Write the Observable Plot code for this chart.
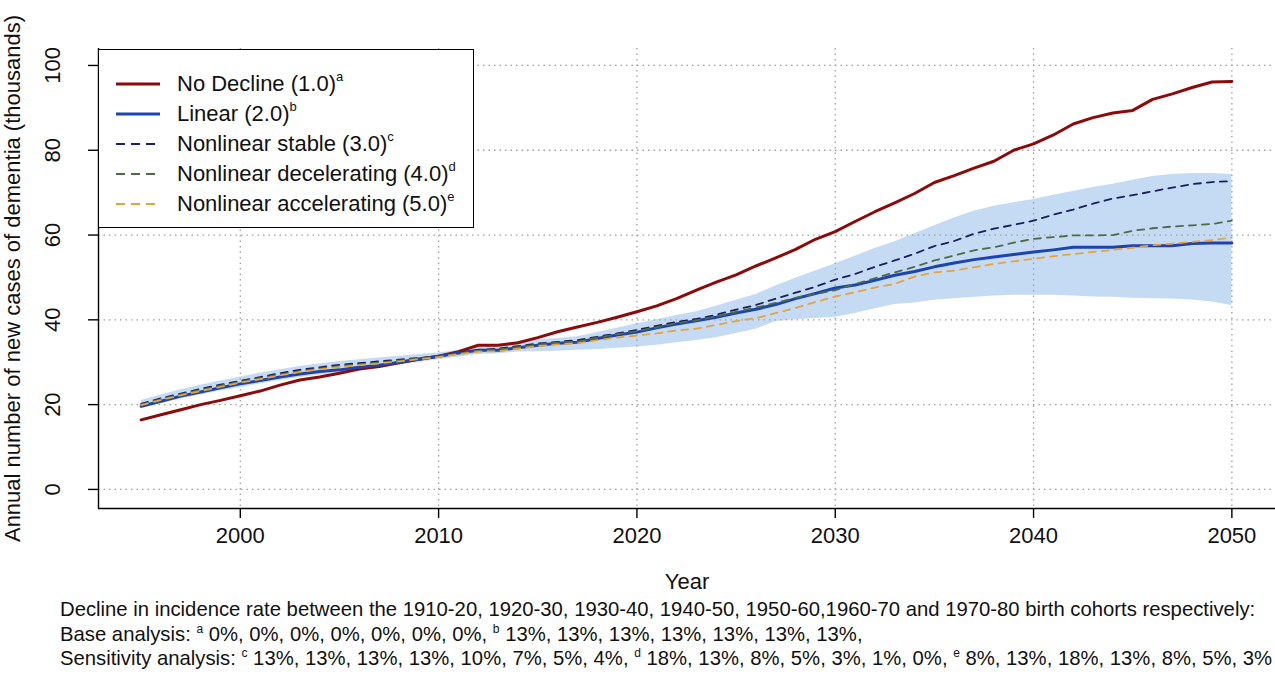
<!DOCTYPE html>
<html><head><meta charset="utf-8">
<script src="https://cdn.jsdelivr.net/npm/d3@7"></script>
<script src="https://cdn.jsdelivr.net/npm/@observablehq/plot@0.6"></script>
<style>
body{margin:0;background:#fff;font-family:"Liberation Sans",Arial,sans-serif;}
#wrap{position:relative;width:1275px;}
#legend{position:absolute;left:98px;top:49px;width:374px;height:177px;border:1px solid #000;background:#fff;}
.row{position:absolute;left:0;height:30px;width:100%;font-size:22px;line-height:30px;color:#111;}
.row svg{position:absolute;left:17px;top:10px;}
.row .t{position:absolute;left:78px;top:0;white-space:nowrap;}
.row sup{font-size:13px;vertical-align:top;position:relative;top:-7px;}
#caption{font-size:20.3px;line-height:24.5px;padding-left:60px;padding-top:2px;color:#111;white-space:nowrap;}
#caption sup{font-size:12px;vertical-align:top;position:relative;top:-5px;}
</style></head>
<body>
<div id="wrap"><div id="chart"></div><div id="legend"></div></div>
<div id="caption">
<div>Decline in incidence rate between the 1910-20, 1920-30, 1930-40, 1940-50, 1950-60,1960-70 and 1970-80 birth cohorts respectively:</div>
<div>Base analysis: <sup>a</sup> 0%, 0%, 0%, 0%, 0%, 0%, 0%, <sup>b</sup> 13%, 13%, 13%, 13%, 13%, 13%, 13%,</div>
<div>Sensitivity analysis: <sup>c</sup> 13%, 13%, 13%, 13%, 10%, 7%, 5%, 4%, <sup>d</sup> 18%, 13%, 8%, 5%, 3%, 1%, 0%, <sup>e</sup> 8%, 13%, 18%, 13%, 8%, 5%, 3%</div>
</div>
<script>
const years = d3.range(1995, 2051);
const xTicks = [2000, 2010, 2020, 2030, 2040, 2050];
const yTicks = [0, 20, 40, 60, 80, 100];

const noDecline = [16.4,17.6,18.8,20.0,21.0,22.1,23.2,24.6,25.8,26.5,27.4,28.4,29.0,29.9,30.7,31.4,32.5,34.0,34.0,34.6,35.8,37.2,38.3,39.4,40.6,41.9,43.3,45.0,47.0,48.9,50.6,52.7,54.6,56.6,59.0,60.8,63.2,65.5,67.6,69.8,72.4,74.0,75.8,77.4,80.0,81.5,83.6,86.2,87.7,88.8,89.4,92.0,93.3,94.8,96.1,96.2];
const linear = [19.6,20.8,22.0,23.0,24.0,24.9,25.7,26.5,27.2,27.8,28.2,28.8,29.3,30.0,30.7,31.4,32.2,32.8,32.8,33.4,34.0,34.5,34.7,35.6,36.4,37.1,38.1,39.0,39.8,40.6,41.6,42.5,43.6,45.0,46.2,47.5,48.2,49.3,50.5,51.4,52.5,53.4,54.2,54.8,55.4,56.0,56.5,57.1,57.1,57.1,57.5,57.5,57.5,58.0,58.1,58.1];
const nlStable = [20.2,21.5,22.6,23.7,24.7,25.6,26.5,27.4,28.2,28.8,29.4,29.8,30.2,30.6,31.0,31.4,32.2,32.9,33.2,33.8,34.4,34.8,35.2,36.0,36.8,37.6,38.6,39.5,40.2,41.2,42.4,43.5,45.0,46.4,47.8,49.5,50.8,52.5,54.0,55.6,57.4,58.6,60.3,61.5,62.4,63.4,64.8,66.0,67.4,68.6,69.4,70.3,71.2,72.0,72.5,72.7];
const nlDecel = [20.0,21.3,22.4,23.5,24.5,25.4,26.3,27.1,27.9,28.5,29.1,29.5,29.9,30.4,30.9,31.4,32.1,32.8,33.0,33.6,34.2,34.6,34.9,35.8,36.6,37.3,38.3,39.2,39.9,40.8,41.9,42.9,44.0,45.2,46.1,47.0,48.4,49.8,51.2,52.5,54.0,55.2,56.4,57.1,58.2,59.1,59.5,59.9,59.9,60.0,61.0,61.6,62.0,62.3,62.6,63.4];
const nlAccel = [19.9,21.1,22.2,23.2,24.2,25.2,26.0,26.9,27.7,28.3,28.9,29.3,29.7,30.2,30.7,31.2,31.9,32.5,32.6,33.2,33.8,34.2,34.5,35.2,35.8,36.3,36.8,37.5,37.9,38.8,39.7,40.4,41.6,42.8,44.2,45.5,46.5,47.6,48.5,50.2,51.2,51.6,52.4,53.2,53.8,54.4,55.0,55.5,56.0,56.5,57.0,57.6,58.0,58.4,58.8,59.4];
const bandLow = [19.0,20.2,21.3,22.3,23.2,24.0,24.9,25.7,26.4,27.0,27.5,28.1,28.6,29.3,30.0,30.6,31.2,31.8,32.0,32.4,32.5,32.6,32.8,33.0,33.3,33.6,34.0,34.6,35.1,35.8,36.8,37.8,39.6,40.0,40.3,40.6,41.5,42.6,43.6,44.0,44.6,45.0,45.3,45.6,45.8,45.8,45.8,45.6,45.4,45.3,45.1,45.0,44.9,44.7,44.2,43.4];
const bandHigh = [21.0,22.3,23.5,24.6,25.6,26.5,27.4,28.2,29.0,29.6,30.2,30.6,31.0,31.4,31.8,32.2,32.8,33.5,34.0,34.8,35.3,35.6,36.0,37.0,38.0,39.1,40.0,41.0,41.9,43.2,44.6,46.0,48.0,49.8,51.5,53.2,55.0,56.8,58.4,60.3,62.2,64.0,65.6,66.8,67.6,68.4,69.4,70.3,71.2,72.0,72.9,73.8,74.3,74.5,74.5,74.3];

const seriesNames = ["No Decline (1.0)", "Linear (2.0)", "Nonlinear stable (3.0)", "Nonlinear decelerating (4.0)", "Nonlinear accelerating (5.0)"];
const seriesNotes = ["a", "b", "c", "d", "e"];
const seriesColors = ["#8c0a0a", "#1d43b0", "#1b1f5e", "#4d6b45", "#e8a33a"];

const rows = years.map((year, i) => ({year, noDecline: noDecline[i], linear: linear[i], nlStable: nlStable[i], nlDecel: nlDecel[i], nlAccel: nlAccel[i], lo: bandLow[i], hi: bandHigh[i]}));

const xDomain = [1992.85, 2052.2];
const yDomain = [-4.5, 104];

const chart = Plot.plot({
  width: 1275, height: 595,
  marginLeft: 98, marginRight: 0, marginTop: 48, marginBottom: 87,
  style: {fontFamily: '"Liberation Sans", Arial, sans-serif', color: "#111", background: "#fff"},
  x: {domain: xDomain},
  y: {domain: yDomain},
  marks: [
    Plot.areaY(rows, {x: "year", y1: "lo", y2: "hi", fill: "#c5daf3", fillOpacity: 1}),
    Plot.gridX(xTicks, {stroke: "#a0a0a0", strokeOpacity: 1, strokeDasharray: "1.5,4", strokeWidth: 1.3}),
    Plot.gridY(yTicks, {stroke: "#a0a0a0", strokeOpacity: 1, strokeDasharray: "1.5,4", strokeWidth: 1.3}),
    Plot.lineY(rows, {x: "year", y: "noDecline", stroke: seriesColors[0], strokeWidth: 3}),
    Plot.lineY(rows, {x: "year", y: "linear", stroke: seriesColors[1], strokeWidth: 3}),
    Plot.lineY(rows, {x: "year", y: "nlStable", stroke: seriesColors[2], strokeWidth: 1.8, strokeDasharray: "7,6"}),
    Plot.lineY(rows, {x: "year", y: "nlDecel", stroke: seriesColors[3], strokeWidth: 1.8, strokeDasharray: "7,6"}),
    Plot.lineY(rows, {x: "year", y: "nlAccel", stroke: seriesColors[4], strokeWidth: 1.8, strokeDasharray: "7,6"}),
    Plot.ruleX([xDomain[0]], {y1: () => yDomain[0], y2: () => yDomain[1], stroke: "#000", strokeWidth: 1.4}),
    Plot.ruleY([yDomain[0]], {x1: () => xDomain[0], x2: () => xDomain[1], stroke: "#000", strokeWidth: 1.4}),
    Plot.axisX({ticks: xTicks, tickSize: 10, tickPadding: 9, fontSize: 22, tickFormat: d => String(d), label: "Year", labelAnchor: "center", labelOffset: 80, labelArrow: "none", stroke: "#000", strokeWidth: 1.4}),
    Plot.axisY({ticks: yTicks, tickSize: 10, tickRotate: -90, tickPadding: 29, fontSize: 22, label: "Annual number of new cases of dementia (thousands)", labelAnchor: "center", labelOffset: 94, labelArrow: "none", stroke: "#000", strokeWidth: 1.4})
  ]
});
document.getElementById("chart").appendChild(chart);

const legend = document.getElementById("legend");
seriesNames.forEach((name, i) => {
  const row = document.createElement("div");
  row.className = "row";
  row.style.top = (19 + i * 30) + "px";
  const dashed = i >= 2;
  row.innerHTML = `<svg width="44" height="10"><line x1="0" x2="44" y1="5" y2="5" stroke="${seriesColors[i]}" stroke-width="${dashed ? 1.8 : 3}" ${dashed ? 'stroke-dasharray="9,6"' : ''}/></svg><span class="t">${name}<sup>${seriesNotes[i]}</sup></span>`;
  legend.appendChild(row);
});
</script>
</body></html>
